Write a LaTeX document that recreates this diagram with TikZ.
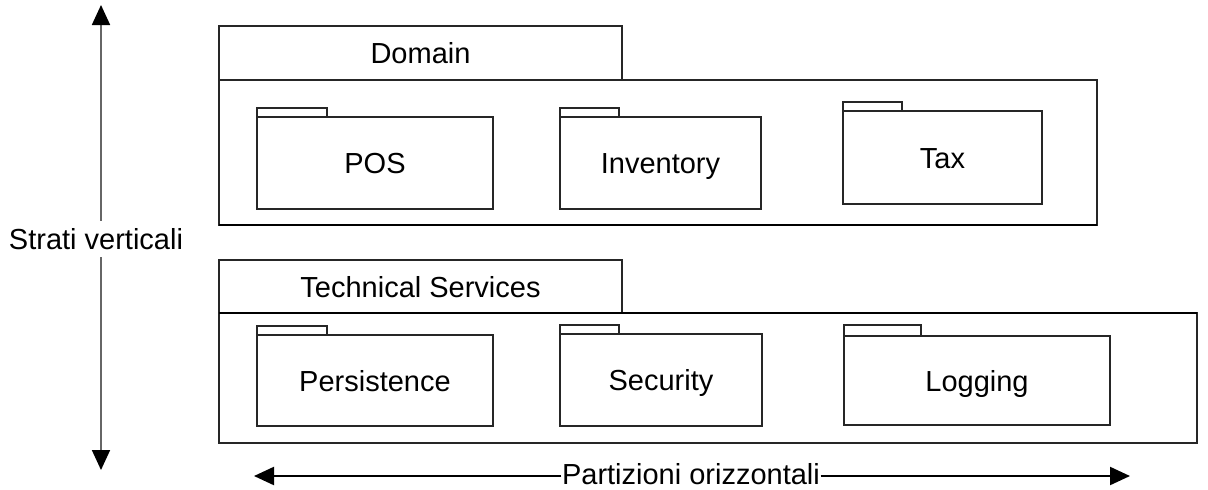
\documentclass[tikz,border=0pt]{standalone}
\usepackage{fontspec}
\setmainfont{Liberation Sans}
\usetikzlibrary{arrows.meta}
\begin{document}
\begin{tikzpicture}[x=1pt,y=-1pt,
  lbl/.style={font=\fontsize{29}{34}\selectfont, text height=21pt, text depth=0pt},
  box/.style={draw=black!85, line width=1.4pt, fill=white, inner sep=0pt, outer sep=0pt, anchor=north west, lbl},
  layer/.style={box, line width=1.7pt},
  edge/.style={draw=black, line width=2.6pt},
  varrow/.style={draw=black!60, line width=1.8pt, -{Triangle[length=20pt,width=18pt,color=black,fill=black]}},
  harrow/.style={draw=black, line width=2.2pt, -{Triangle[length=20pt,width=18pt]}},
]
\useasboundingbox (0,0) rectangle (1208,490);

% Domain layer
\node[layer, minimum width=403pt, minimum height=54pt] (domtab) at (219,26) {Domain};
\node[layer, minimum width=878pt, minimum height=145pt] (dombody) at (219,80) {};
\draw[edge] (dombody.south west) -- (dombody.south east);
% Domain packages
\node[box, minimum width=70pt, minimum height=9pt] (postab) at (257,108) {};
\node[box, minimum width=236pt, minimum height=92pt] (pos) at (257,117) {POS};
\node[box, minimum width=59pt, minimum height=9pt] (invtab) at (560,108) {};
\node[box, minimum width=201pt, minimum height=92pt] (inv) at (560,117) {Inventory};
\node[box, minimum width=59pt, minimum height=9pt] (taxtab) at (843,102) {};
\node[box, minimum width=199pt, minimum height=93pt] (tax) at (843,111) {Tax};

% Technical Services layer
\node[layer, minimum width=403pt, minimum height=53pt] (techtab) at (219,260) {Technical Services};
\node[layer, minimum width=978pt, minimum height=130pt] (techbody) at (219,313) {};
\draw[edge, line width=2pt] (techbody.north west) -- (techbody.north east);
% Technical packages
\node[box, minimum width=70pt, minimum height=9pt] (pertab) at (257,326) {};
\node[box, minimum width=236pt, minimum height=91pt] (per) at (257,335) {Persistence};
\node[box, minimum width=59pt, minimum height=9pt] (sectab) at (560,325) {};
\node[box, minimum width=202pt, minimum height=92pt] (sec) at (560,334) {Security};
\node[box, minimum width=77pt, minimum height=11pt] (logtab) at (844,325) {};
\node[box, minimum width=266pt, minimum height=89pt] (log) at (844,336) {Logging};

% Vertical arrow
\node[lbl, inner xsep=0pt, inner ysep=7.5pt] (strati) at (96,239) {Strati verticali};
\coordinate (vtop) at (101,5);
\coordinate (vbot) at (101,470);
\draw[varrow] (strati.north -| vtop) -- (vtop);
\draw[varrow] (strati.south -| vbot) -- (vbot);

% Horizontal arrow
\node[lbl, inner xsep=0.5pt, inner ysep=0pt] (part) at (691,474) {Partizioni orizzontali};
\coordinate (hleft) at (254,476);
\coordinate (hright) at (1130,476);
\draw[harrow] (part.west |- hleft) -- (hleft);
\draw[harrow] (part.east |- hright) -- (hright);
\end{tikzpicture}
\end{document}
